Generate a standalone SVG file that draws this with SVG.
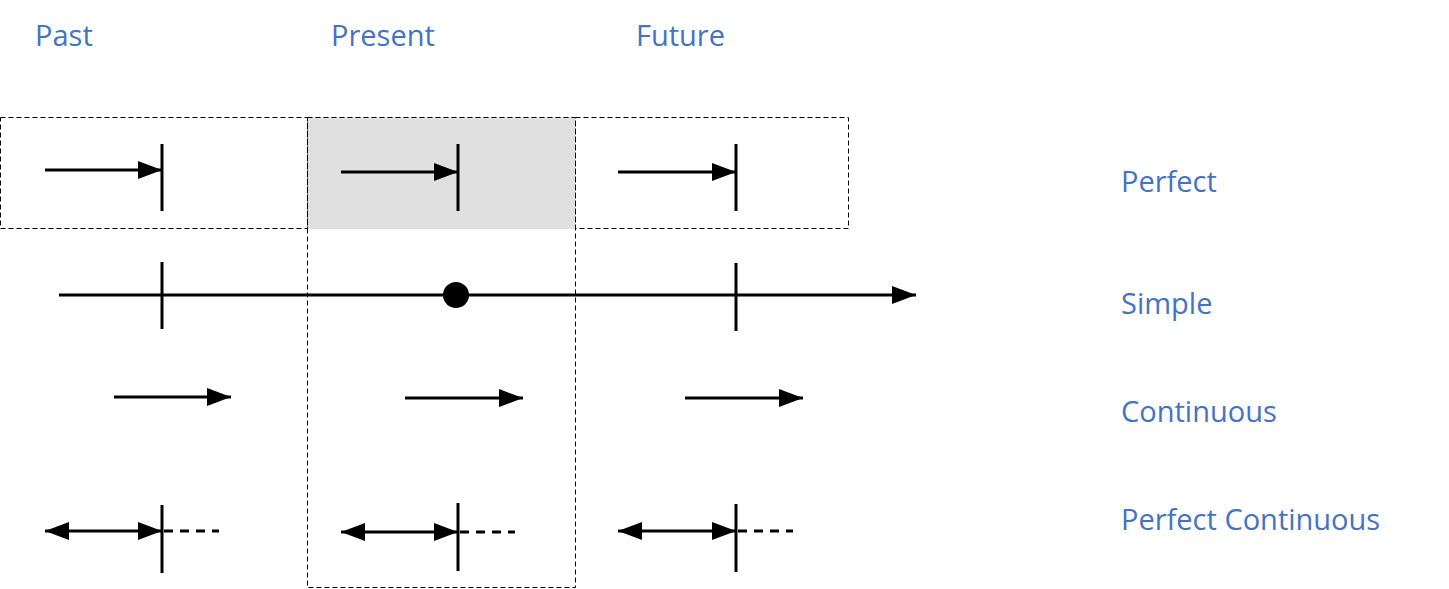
<svg xmlns="http://www.w3.org/2000/svg" width="1449" height="589" viewBox="0 0 1449 589">
<style>
.lbl{font-family:"Open Sans","Liberation Sans",sans-serif;font-size:29px;fill:#4472C4}
.box{fill:none;stroke:#000;stroke-width:1;stroke-dasharray:5,3}
.ln{stroke:#000;stroke-width:3;fill:none}
.dash{stroke:#000;stroke-width:3;stroke-dasharray:9,7;fill:none}
</style>
<defs>
<marker id="ah" markerWidth="8" markerHeight="6" refX="8" refY="3" orient="auto-start-reverse" markerUnits="strokeWidth"><path d="M0,0L8,3L0,6z" fill="#000"/></marker>
</defs>
<rect x="0" y="0" width="1449" height="589" fill="#fff"/>
<g id="headers">
<text class="lbl" x="35" y="46">Past</text>
<text class="lbl" x="331" y="46">Present</text>
<text class="lbl" x="636" y="46">Future</text>
</g>
<g id="rowlabels">
<text class="lbl" x="1121" y="192">Perfect</text>
<text class="lbl" x="1121" y="314">Simple</text>
<text class="lbl" x="1121" y="422">Continuous</text>
<text class="lbl" x="1121" y="530">Perfect Continuous</text>
</g>
<g id="boxes">
<rect x="307" y="117" width="268" height="112" fill="#e0e0e0"/>
<rect class="box" x="0.5" y="117.5" width="307" height="111"/>
<rect class="box" x="307.5" y="117.5" width="268" height="470"/>
<rect class="box" x="575.5" y="117.5" width="273" height="111"/>
</g>
<g id="connectors">
<line class="ln" x1="45" y1="170" x2="162" y2="170" marker-end="url(#ah)"/>
<line class="ln" x1="162" y1="144" x2="162" y2="211"/>
<line class="ln" x1="341" y1="172" x2="458" y2="172" marker-end="url(#ah)"/>
<line class="ln" x1="458" y1="144" x2="458" y2="211"/>
<line class="ln" x1="618" y1="172" x2="736" y2="172" marker-end="url(#ah)"/>
<line class="ln" x1="736" y1="144" x2="736" y2="211"/>

<line class="ln" x1="59" y1="295" x2="916" y2="295" marker-end="url(#ah)"/>
<line class="ln" x1="162" y1="262" x2="162" y2="329"/>
<line class="ln" x1="736" y1="263" x2="736" y2="331"/>
<circle cx="456" cy="295" r="13" fill="#000"/>

<line class="ln" x1="114" y1="397" x2="231" y2="397" marker-end="url(#ah)"/>
<line class="ln" x1="405" y1="398" x2="523" y2="398" marker-end="url(#ah)"/>
<line class="ln" x1="685" y1="398" x2="803" y2="398" marker-end="url(#ah)"/>

<line class="ln" x1="45" y1="531" x2="162" y2="531" marker-start="url(#ah)" marker-end="url(#ah)"/>
<line class="ln" x1="162" y1="505" x2="162" y2="573"/>
<line class="dash" x1="164" y1="531" x2="219" y2="531"/>
<line class="ln" x1="341" y1="532" x2="458" y2="532" marker-start="url(#ah)" marker-end="url(#ah)"/>
<line class="ln" x1="458" y1="503" x2="458" y2="571"/>
<line class="dash" x1="460" y1="532" x2="515" y2="532"/>
<line class="ln" x1="618" y1="531" x2="736" y2="531" marker-start="url(#ah)" marker-end="url(#ah)"/>
<line class="ln" x1="736" y1="504" x2="736" y2="572"/>
<line class="dash" x1="738" y1="531" x2="793" y2="531"/>
</g>
</svg>
